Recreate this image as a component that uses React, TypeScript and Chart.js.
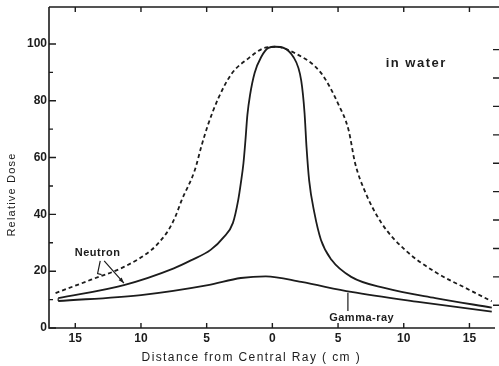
import React, { useEffect, useRef } from "react";
import { Chart, registerables } from "chart.js";

Chart.register(...registerables);

// ---- data ----
const dashedX = [-16.5, -13.8, -11.3, -9.2, -8.5, -7.9, -7.4, -6.9, -5.9, -5.4, -4.9, -4.1, -3.1, -1.8, -0.6, 0.2, 1.7, 3.7, 5.0, 5.8, 6.3, 7.0, 8.3, 10.1, 12.4, 15.0, 16.7];
const dashedY = [12.3, 17, 21.5, 27.5, 30.8, 34.5, 39, 45, 55.6, 64, 71.5, 81, 89.5, 95, 98.6, 99, 96.8, 89.8, 79, 69.7, 58, 48.6, 37, 27.5, 19.7, 13.4, 9.4];

const solidX = [-16.3, -11.3, -7.5, -6.2, -4.7, -3.7, -3.0, -2.6, -2.4, -2.2, -2.05, -1.9, -1.7, -1.35, -0.85, -0.3, 0.2, 1.6, 2.2, 2.45, 2.6, 2.8, 3.2, 3.7, 4.5, 6.0, 8.6, 12.4, 16.7];
const solidY = [10.5, 15.1, 21, 23.8, 27.5, 32, 37, 45, 51, 58, 66, 75, 82, 89.8, 95.4, 98.6, 99, 95.4, 87, 75.7, 63.7, 52, 40.5, 31, 24, 18, 14, 10.5, 7.2];

const gammaX = [-16.3, -10, -4.9, -2.4, -0.5, 2.2, 6.0, 11.1, 16.7];
const gammaY = [9.5, 11.6, 15.1, 17.6, 18.2, 16.2, 12.7, 9.2, 5.8];

const xTicks = [-15, -10, -5, 0, 5, 10, 15];
const yTicks = [0, 20, 40, 60, 80, 100];
const yMinorTicks = [10, 30, 50, 70, 90];
const rightTicks = [8, 18, 28, 38, 48, 58, 68, 78, 88, 98];

const xTitle = "Distance from Central Ray ( cm )";
const yTitle = "Relative Dose";
const noteText = "in water";
const neutronText = "Neutron";
const gammaText = "Gamma-ray";

const INK = "#1c1c1c";
const FONT = "'Liberation Sans', Arial, sans-serif";

const toPts = (xs: number[], ys: number[]) => xs.map((x, i) => ({ x, y: ys[i] }));

const framePlugin = {
  id: "framePlugin",
  afterDraw(chart: any) {
    const { ctx, chartArea } = chart;
    const xs = chart.scales.x;
    const ys = chart.scales.y;
    const { left, right, top, bottom } = chartArea;
    ctx.save();
    ctx.strokeStyle = INK;
    ctx.fillStyle = INK;
    ctx.lineWidth = 1.6;
    ctx.beginPath();
    ctx.moveTo(left, top);
    ctx.lineTo(right, top);
    ctx.moveTo(left, top);
    ctx.lineTo(left, bottom);
    ctx.lineTo(right - 4, bottom);
    ctx.stroke();

    // ticks (inward)
    ctx.lineWidth = 1.4;
    ctx.beginPath();
    xTicks.forEach((v) => {
      const px = xs.getPixelForValue(v);
      ctx.moveTo(px, bottom);
      ctx.lineTo(px, bottom - 5);
      ctx.moveTo(px, top);
      ctx.lineTo(px, top + 5);
    });
    yTicks.forEach((v) => {
      const py = ys.getPixelForValue(v);
      ctx.moveTo(left, py);
      ctx.lineTo(left + 7, py);
    });
    yMinorTicks.forEach((v) => {
      const py = ys.getPixelForValue(v);
      ctx.moveTo(left, py);
      ctx.lineTo(left + 4, py);
    });
    rightTicks.forEach((v) => {
      const py = ys.getPixelForValue(v);
      ctx.moveTo(right, py);
      ctx.lineTo(right - 6, py);
    });
    ctx.stroke();

    // tick labels
    ctx.font = `bold 12px ${FONT}`;
    ctx.textAlign = "center";
    ctx.textBaseline = "middle";
    xTicks.forEach((v) => {
      ctx.fillText(String(Math.abs(v)), xs.getPixelForValue(v), bottom + 11);
    });
    ctx.textAlign = "right";
    yTicks.forEach((v) => {
      ctx.fillText(String(v), left - 2, ys.getPixelForValue(v));
    });

    // axis titles
    (ctx as any).letterSpacing = "1.4px";
    ctx.font = `12px ${FONT}`;
    ctx.textAlign = "center";
    ctx.fillText(xTitle, xs.getPixelForValue(-1.6), bottom + 30);
    ctx.save();
    (ctx as any).letterSpacing = "1.2px";
    ctx.font = `11px ${FONT}`;
    ctx.translate(12, ys.getPixelForValue(47));
    ctx.rotate(-Math.PI / 2);
    ctx.fillText(yTitle, 0, 0);
    ctx.restore();

    // annotations
    (ctx as any).letterSpacing = "1.5px";
    ctx.font = `bold 13px ${FONT}`;
    ctx.fillText(noteText, xs.getPixelForValue(10.95), ys.getPixelForValue(93.3));

    (ctx as any).letterSpacing = "0.5px";
    ctx.font = `bold 11px ${FONT}`;
    ctx.fillText(neutronText, xs.getPixelForValue(-13.3), ys.getPixelForValue(26.4));
    ctx.fillText(gammaText, xs.getPixelForValue(6.8), ys.getPixelForValue(3.5));

    ctx.lineWidth = 1.2;
    ctx.beginPath();
    // neutron pointers
    ctx.moveTo(xs.getPixelForValue(-13.1), ys.getPixelForValue(23.6));
    ctx.lineTo(xs.getPixelForValue(-13.3), ys.getPixelForValue(19.2));
    ctx.lineTo(xs.getPixelForValue(-13.0), ys.getPixelForValue(18.8));
    const ax0 = xs.getPixelForValue(-12.8), ay0 = ys.getPixelForValue(23.6);
    const ax1 = xs.getPixelForValue(-11.3), ay1 = ys.getPixelForValue(15.8);
    ctx.moveTo(ax0, ay0);
    ctx.lineTo(ax1, ay1);
    // gamma pointer
    ctx.moveTo(xs.getPixelForValue(5.75), ys.getPixelForValue(12.4));
    ctx.lineTo(xs.getPixelForValue(5.75), ys.getPixelForValue(6.0));
    // left-end joint of the solid curves
    ctx.moveTo(xs.getPixelForValue(-16.3), ys.getPixelForValue(10.5));
    ctx.lineTo(xs.getPixelForValue(-16.3), ys.getPixelForValue(9.5));
    ctx.stroke();
    // arrow head
    const ang = Math.atan2(ay1 - ay0, ax1 - ax0);
    ctx.beginPath();
    ctx.moveTo(ax1, ay1);
    ctx.lineTo(ax1 - 6 * Math.cos(ang - 0.35), ay1 - 6 * Math.sin(ang - 0.35));
    ctx.lineTo(ax1 - 6 * Math.cos(ang + 0.35), ay1 - 6 * Math.sin(ang + 0.35));
    ctx.closePath();
    ctx.fill();
    ctx.restore();
  },
};

export default function App() {
  const ref = useRef<HTMLCanvasElement | null>(null);
  useEffect(() => {
    document.body.style.margin = "0";
    if (!ref.current) return;
    const chart = new Chart(ref.current, {
      type: "line",
      data: {
        datasets: [
          {
            label: "Neutron (broad)",
            data: toPts(dashedX, dashedY),
            borderColor: INK,
            borderWidth: 1.8,
            borderDash: [4, 3],
            pointRadius: 0,
            cubicInterpolationMode: "monotone",
            fill: false,
          },
          {
            label: "Neutron",
            data: toPts(solidX, solidY),
            borderColor: INK,
            borderWidth: 1.8,
            pointRadius: 0,
            cubicInterpolationMode: "monotone",
            fill: false,
          },
          {
            label: "Gamma-ray",
            data: toPts(gammaX, gammaY),
            borderColor: INK,
            borderWidth: 1.8,
            pointRadius: 0,
            cubicInterpolationMode: "monotone",
            fill: false,
          },
        ],
      },
      options: {
        animation: false,
        responsive: false,
        devicePixelRatio: 1,
        layout: { padding: { left: 49, right: 0, top: 7, bottom: 38 } },
        plugins: { legend: { display: false }, tooltip: { enabled: false } },
        scales: {
          x: { type: "linear", min: -17, max: 17.25, display: false },
          y: { type: "linear", min: 0, max: 113, display: false },
        },
      },
      plugins: [framePlugin],
    });
    return () => chart.destroy();
  }, []);
  return (
    <div style={{ position: "absolute", left: 0, top: 0, width: 499, height: 366, background: "#fff" }}>
      <canvas ref={ref} width={499} height={366} />
    </div>
  );
}
